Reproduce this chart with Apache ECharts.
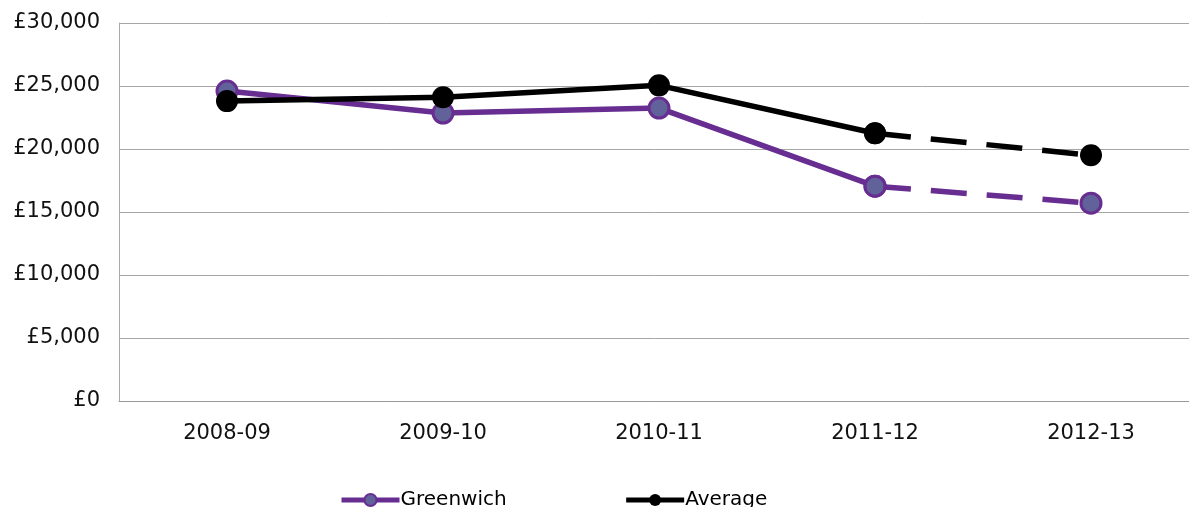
<!DOCTYPE html>
<html>
<head>
<meta charset="utf-8">
<script src="https://cdn.jsdelivr.net/npm/echarts@6/dist/echarts.min.js"></script>
<style>
html,body{margin:0;padding:0;background:#fff;}
#chart{width:1189px;height:507px;}
</style>
</head>
<body>
<div id="chart"></div>
<script>
const categories = ['2008-09', '2009-10', '2010-11', '2011-12', '2012-13'];
const greenwich = [24600, 22850, 23250, 17050, 15700];
const average = [23800, 24100, 25050, 21250, 19500];
const yTicks = [0, 5000, 10000, 15000, 20000, 25000, 30000];
const solidCount = 4; // points joined by solid line; last segment is dashed

function solidPart(arr) { return arr.map((v, i) => i < solidCount ? v : null); }
function dashPart(arr) { return arr.map((v, i) => i >= solidCount - 1 ? v : null); }

const purple = '#672d91';
const markerFill = '#62629a';
const font = 'DejaVu Sans, Verdana, sans-serif';

const chart = echarts.init(document.getElementById('chart'), null, {renderer: 'canvas'});
chart.setOption({
  animation: false,
  backgroundColor: '#ffffff',
  grid: {left: 119, width: 1080, top: 23, height: 378, containLabel: false, outerBoundsMode: 'none'},
  legend: {
    data: ['Greenwich', 'Average'],
    left: 334,
    top: 485,
    itemWidth: 58,
    itemHeight: 15,
    itemGap: 117,
    lineStyle: {width: 5},
    textStyle: {fontFamily: font, fontSize: 20, color: '#000', padding: [0, 0, 0, -4]}
  },
  xAxis: {
    type: 'category',
    data: categories,
    boundaryGap: true,
    axisLine: {lineStyle: {color: '#999999', width: 1}},
    axisTick: {show: false},
    axisLabel: {fontFamily: font, fontSize: 21, color: '#111', margin: 22}
  },
  yAxis: {
    type: 'value',
    min: yTicks[0],
    max: yTicks[yTicks.length - 1],
    interval: 5000,
    axisLine: {show: true, lineStyle: {color: '#aaaaaa', width: 1}},
    axisTick: {show: false},
    splitLine: {lineStyle: {color: '#a6a6a6', width: 1}},
    axisLabel: {
      fontFamily: font, fontSize: 21, color: '#111', margin: 19,
      formatter: v => '£' + v.toLocaleString('en-GB')
    }
  },
  series: [
    {
      name: 'Greenwich', type: 'line', data: solidPart(greenwich),
      symbol: 'circle', symbolSize: 20, z: 3,
      lineStyle: {color: purple, width: 5.5},
      itemStyle: {color: markerFill, borderColor: purple, borderWidth: 3}
    },
    {
      name: 'Greenwich', type: 'line', data: dashPart(greenwich),
      symbol: 'circle', symbolSize: 20, z: 3,
      lineStyle: {color: purple, width: 5.5, type: [36, 20]},
      itemStyle: {color: markerFill, borderColor: purple, borderWidth: 3}
    },
    {
      name: 'Average', type: 'line', data: solidPart(average),
      symbol: 'circle', symbolSize: 22, z: 4,
      lineStyle: {color: '#000', width: 5.5},
      itemStyle: {color: '#000', borderColor: '#000', borderWidth: 0}
    },
    {
      name: 'Average', type: 'line', data: dashPart(average),
      symbol: 'circle', symbolSize: 22, z: 4,
      lineStyle: {color: '#000', width: 5.5, type: [36, 20]},
      itemStyle: {color: '#000', borderColor: '#000', borderWidth: 0}
    }
  ]
});
</script>
</body>
</html>
